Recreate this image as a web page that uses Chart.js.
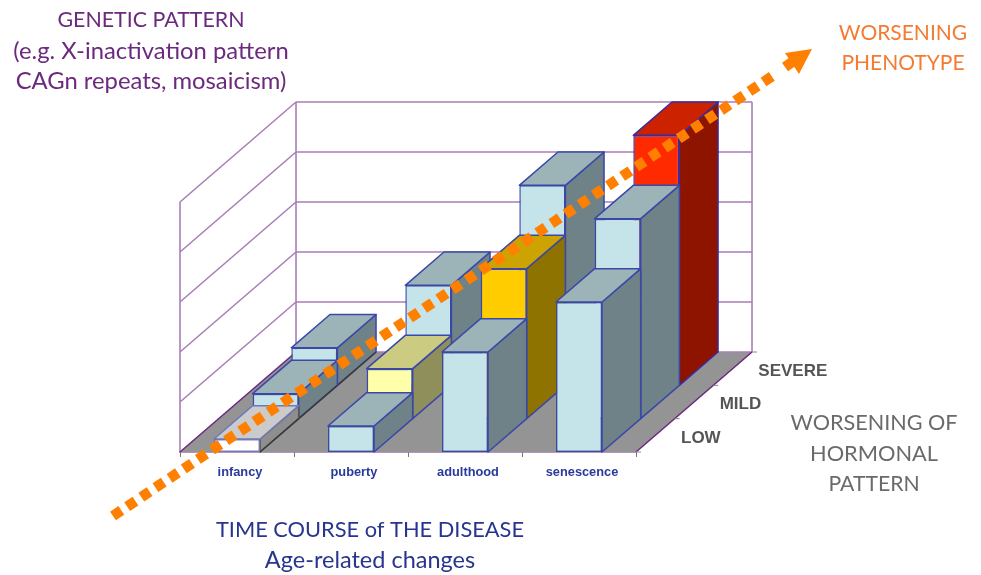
<!DOCTYPE html>
<html>
<head>
<meta charset="utf-8">
<style>
  html, body { margin: 0; padding: 0; background: #fff; }
  canvas { display: block; }
</style>
<script src="https://cdn.jsdelivr.net/npm/chart.js@4/dist/chart.umd.js"></script>
</head>
<body>
<canvas id="chart" width="981" height="575"></canvas>
<script>
const stages = ['infancy', 'puberty', 'adulthood', 'senescence'];
const depthLabels = ['LOW', 'MILD', 'SEVERE'];

const lowValues    = [0.26, 0.52, 2, 3];
const mildValues   = [0.5, 1, 3, 4];
const severeValues = [0.75, 2, 4, 5];

const lowFaces    = ['white', 'blue', 'blue', 'blue'];
const mildFaces   = ['blue', 'yellow', 'gold', 'blue'];
const severeFaces = ['blue', 'blue', 'blue', 'red'];

// front, top and side colour of each bar kind
const faces = {
      white:  { front: '#ffffff', top: '#cbcbcb', side: '#8e8e8e', line: '#7078b8', sideLine: '#555555' },
      blue:   { front: '#c4e4ea', top: '#9cb4b8', side: '#6f8287', line: '#3a48a8' },
      yellow: { front: '#ffffaa', top: '#cccb82', side: '#8f8f5c', line: '#3a48a8' },
      gold:   { front: '#ffcc00', top: '#cca300', side: '#8f7300', line: '#3a48a8' },
      red:    { front: '#ff2a00', top: '#cc2200', side: '#8f1400', line: '#3a2ca0' },
}

// oblique offset of one depth row
const rowDx = 38.67;
const rowDy = -33.33;

const gridColor  = '#a97fb8';
const floorColor = '#949494';
const axisColor  = '#6c2a80';

const notes = [
      { text: 'GENETIC PATTERN',              x: 151, y: 27,  size: 21.4, color: '#6b2a7d' },
      { text: '(e.g. X-inactivation pattern', x: 151, y: 59,  size: 23.8, color: '#6b2a7d' },
      { text: 'CAGn repeats, mosaicism)',     x: 151, y: 89,  size: 23.8, color: '#6b2a7d' },
      { text: 'WORSENING',                    x: 903, y: 40,  size: 21,   color: '#f47b30' },
      { text: 'PHENOTYPE',                    x: 903, y: 70,  size: 21,   color: '#f47b30' },
      { text: 'TIME COURSE of THE DISEASE',   x: 370, y: 537, size: 21.8, color: '#27358f' },
      { text: 'Age-related changes',          x: 370, y: 568, size: 23.5, color: '#27358f' },
      { text: 'WORSENING OF',                 x: 874, y: 430, size: 21.6, color: '#6a6a6a' },
      { text: 'HORMONAL',                     x: 874, y: 461, size: 21.8, color: '#6a6a6a' },
      { text: 'PATTERN',                      x: 874, y: 491, size: 21.2, color: '#6a6a6a' },
]


function poly(ctx, pts, fill, line){
      ctx.beginPath()
      pts.forEach((p, i)=>{ i === 0 ? ctx.moveTo(p[0], p[1]) : ctx.lineTo(p[0], p[1]) })
      ctx.closePath()
      ctx.fillStyle = fill
      ctx.fill()
      if(line){
            ctx.strokeStyle = line
            ctx.lineWidth = 1.5
            ctx.stroke()
      }
}


// floor and the two walls, built from the chart scales
const wallsPlugin = {
      id: 'walls',
      beforeDatasetsDraw(chart){
            const { ctx, chartArea: a, scales } = chart
            const dx = rowDx * depthLabels.length
            const dy = rowDy * depthLabels.length
            const y0 = scales.y.getPixelForValue(0)

            poly(ctx, [[a.left, y0], [a.left + dx, y0 + dy], [a.right + dx, y0 + dy], [a.right, y0]], floorColor)

            ctx.strokeStyle = gridColor
            ctx.lineWidth = 1.6
            ctx.beginPath()
            scales.y.ticks.forEach((t)=>{
                  const y = scales.y.getPixelForValue(t.value)
                  if(t.value > 0){
                        ctx.moveTo(a.left, y)
                        ctx.lineTo(a.left + dx, y + dy)
                  }
                  ctx.moveTo(a.left + dx, y + dy)
                  ctx.lineTo(a.right + dx, y + dy)
            })
            const yTop = scales.y.getPixelForValue(scales.y.max)
            ctx.moveTo(a.left, y0);          ctx.lineTo(a.left, yTop)
            ctx.moveTo(a.left + dx, y0 + dy); ctx.lineTo(a.left + dx, yTop + dy)
            ctx.moveTo(a.right + dx, y0 + dy); ctx.lineTo(a.right + dx, yTop + dy)
            ctx.stroke()

            // floor edges and depth ticks
            ctx.strokeStyle = axisColor
            ctx.beginPath()
            ctx.moveTo(a.left, y0);  ctx.lineTo(a.left + dx, y0 + dy)
            ctx.moveTo(a.right, y0); ctx.lineTo(a.right + dx, y0 + dy)
            ctx.stroke()

            ctx.strokeStyle = '#888888'
            ctx.lineWidth = 1
            ctx.beginPath()
            for(let k = 0; k <= depthLabels.length; k++){
                  ctx.moveTo(a.right + rowDx * k, y0 + rowDy * k)
                  ctx.lineTo(a.right + rowDx * k + 5, y0 + rowDy * k)
            }
            ctx.stroke()
      }
}


// moves each row back and adds the top and side faces of its bars
const depthPlugin = {
      id: 'depth',
      beforeDatasetDraw(chart, args){
            const { ctx } = chart
            const k = args.index
            const kinds = chart.data.datasets[k].kinds

            ctx.save()
            ctx.translate(rowDx * k, rowDy * k)
            ctx.lineJoin = 'round'

            args.meta.data.forEach((bar, i)=>{
                  const { x, y, base, width } = bar.getProps(['x', 'y', 'base', 'width'], true)
                  const f = faces[kinds[i]]
                  const l = x - width / 2
                  const r = x + width / 2
                  poly(ctx, [[r, y], [r + rowDx, y + rowDy], [r + rowDx, base + rowDy], [r, base]], f.side, f.sideLine || f.line)
                  poly(ctx, [[l, y], [l + rowDx, y + rowDy], [r + rowDx, y + rowDy], [r, y]], f.top, f.line)

                  // the first column meets the floor with a dark edge
                  if(i === 0){
                        ctx.strokeStyle = '#3a3a3a'
                        ctx.beginPath()
                        ctx.moveTo(r, base)
                        ctx.lineTo(r + rowDx, base + rowDy)
                        ctx.stroke()
                  }
            })
      },
      afterDatasetDraw(chart){
            chart.ctx.restore()
      }
}


const notesPlugin = {
      id: 'notes',
      afterDraw(chart){
            const { ctx, chartArea: a, scales } = chart
            const y0 = scales.y.getPixelForValue(0)

            // dotted arrow over the bars
            ctx.save()
            ctx.strokeStyle = '#ff8000'
            ctx.lineWidth = 10.5
            ctx.setLineDash([10, 7])
            ctx.beginPath()
            ctx.moveTo(113, 516)
            ctx.lineTo(774, 75)
            ctx.stroke()
            ctx.setLineDash([])
            ctx.beginPath()
            ctx.moveTo(785, 67)
            ctx.lineTo(798, 58)
            ctx.stroke()
            poly(ctx, [[812, 49], [785, 53], [799, 74]], '#ff8000')
            ctx.restore()

            ctx.textAlign = 'center'
            ctx.textBaseline = 'alphabetic'
            notes.forEach((n)=>{
                  ctx.font = n.size + 'px Lato'
                  ctx.fillStyle = n.color
                  ctx.fillText(n.text, n.x, n.y)
            })

            ctx.textAlign = 'left'
            ctx.font = 'bold 17px "Liberation Sans"'
            ctx.fillStyle = '#555555'
            depthLabels.forEach((label, k)=>{
                  ctx.fillText(label, a.right + rowDx * k + 45, y0 + rowDy * k - 9.5)
            })
      }
}


function rowDataset(label, values, kinds){
      return {
            label: label,
            data: values,
            kinds: kinds,
            backgroundColor: kinds.map((k)=> faces[k].front),
            borderColor: kinds.map((k)=> faces[k].line),
            borderWidth: 1.5,
            borderSkipped: false,
            clip: false,
      }
}


new Chart(document.getElementById('chart'), {
      type: 'bar',
      data: {
            labels: stages,
            datasets: [
                  rowDataset(depthLabels[0], lowValues, lowFaces),
                  rowDataset(depthLabels[1], mildValues, mildFaces),
                  rowDataset(depthLabels[2], severeValues, severeFaces),
            ],
      },
      options: {
            responsive: false,
            animation: false,
            layout: { padding: { left: 180, right: 345, top: 202, bottom: 93 } },
            datasets: { bar: { grouped: false, barPercentage: 0.404, categoryPercentage: 1 } },
            plugins: {
                  legend: { display: false },
                  tooltip: { enabled: false },
            },
            scales: {
                  x: {
                        afterFit: (s)=>{ s.height = 30 },
                        border: { color: axisColor, width: 1.5 },
                        grid: { drawOnChartArea: false, tickLength: 5, tickColor: '#777777' },
                        ticks: {
                              color: '#2a3a9c',
                              font: { family: 'Liberation Sans', size: 12.8, weight: 'bold' },
                              maxRotation: 0,
                              autoSkip: false,
                              padding: 8,
                              labelOffset: 3,
                        },
                  },
                  y: { display: false, min: 0, max: 5, ticks: { stepSize: 1 } },
            },
      },
      plugins: [wallsPlugin, depthPlugin, notesPlugin],
})
</script>
</body>
</html>
